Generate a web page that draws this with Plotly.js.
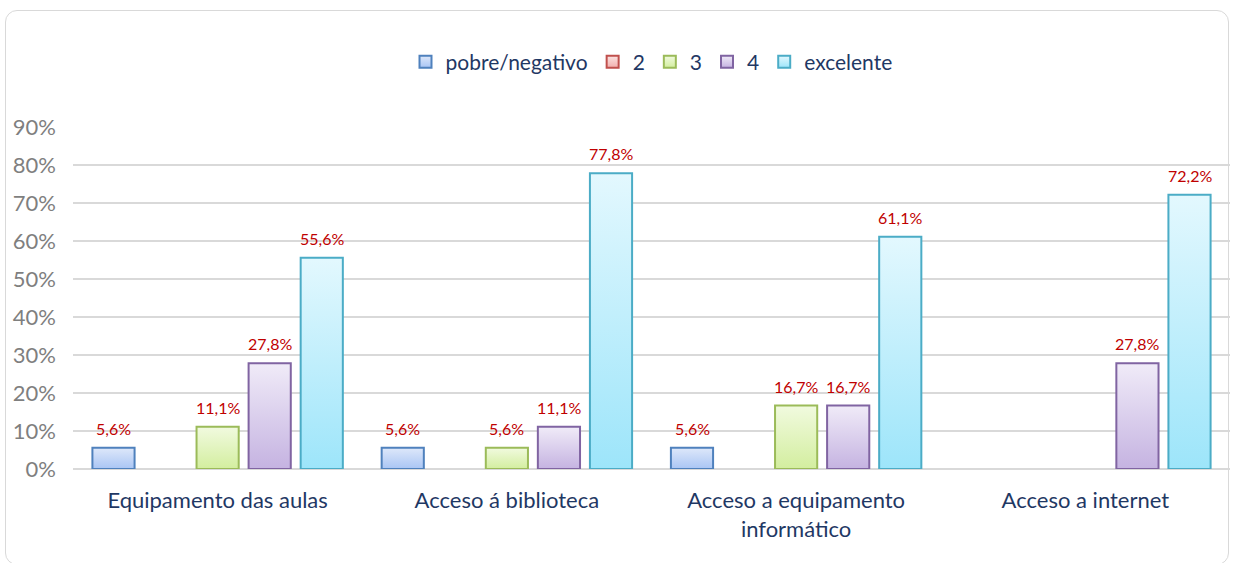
<!DOCTYPE html>
<html>
<head>
<meta charset="utf-8">
<script src="https://cdn.plot.ly/plotly-3.0.1.min.js"></script>
<style>
  html, body { margin: 0; padding: 0; background: #ffffff; }
  #frame { position: absolute; left: 5px; top: 10px; width: 1224px; height: 555px; border: 1.5px solid #D9D9D9; border-radius: 12px; box-sizing: border-box; }
  #chart { position: absolute; left: 0; top: 0; width: 1233px; height: 563px; }
</style>
</head>
<body>
<div id="frame"></div>
<div id="chart"></div>
<script>
const categories = ["Equipamento das aulas", "Acceso á biblioteca", "Acceso a equipamento<br>informático", "Acceso a internet"];
const seriesNames = ["pobre/negativo", "2", "3", "4", "excelente"];
const pobreNegativo = [0.056, 0.056, 0.056, 0];
const valor2 = [0, 0, 0, 0];
const valor3 = [0.111, 0.056, 0.167, 0];
const valor4 = [0.278, 0.111, 0.167, 0.278];
const excelente = [0.556, 0.778, 0.611, 0.722];
const yTickValues = [0, 0.1, 0.2, 0.3, 0.4, 0.5, 0.6, 0.7, 0.8, 0.9];

const seriesValues = [pobreNegativo, valor2, valor3, valor4, excelente];
const fills = ["#C6D9F7", "#F6C9C8", "#E3F5C0", "#DBD0EC", "#C1EEFB"];
const lines = ["#4F81BD", "#C0504D", "#9BBB59", "#8064A2", "#4BACC6"];
const gradTop = ["#DEE8FA", "#FBE3E2", "#F1FADF", "#F0EBF8", "#E3F8FE"];
const gradBot = ["#A9C5F4", "#F2AFAD", "#D3EE9F", "#C5B3E1", "#9DE5FA"];

const FONT = "Lato, 'Open Sans', sans-serif";

const traces = seriesValues.map((vals, i) => ({
  type: "bar",
  name: seriesNames[i],
  x: categories,
  y: vals.map(v => (v > 0 ? v : null)),
  marker: { color: fills[i], line: { color: lines[i], width: 2 } },
  hoverinfo: "skip"
}));

const plotLeft = 73, plotRight = 1230;
const catWidthPx = (plotRight - plotLeft) / categories.length;
const bargap = 0.10, bargroupgap = 0.19;
const slotPx = catWidthPx * (1 - bargap) / seriesValues.length;

const annotations = [];
seriesValues.forEach((vals, i) => {
  vals.forEach((v, j) => {
    if (v > 0) {
      annotations.push({
        x: categories[j], y: v, xref: "x", yref: "y",
        text: (v * 100).toFixed(1).replace(".", ",") + "%",
        showarrow: false, yanchor: "bottom",
        xshift: (i - (seriesValues.length - 1) / 2) * slotPx,
        yshift: 8,
        font: { family: FONT, size: 16, color: "#C00000" }
      });
    }
  });
});

const layout = {
  width: 1233, height: 563,
  margin: { l: plotLeft, r: 1233 - plotRight, t: 127, b: 94 },
  paper_bgcolor: "rgba(0,0,0,0)",
  plot_bgcolor: "rgba(0,0,0,0)",
  barmode: "group",
  bargap: bargap,
  bargroupgap: bargroupgap,
  separators: ",.",
  font: { family: FONT },
  showlegend: true,
  legend: {
    orientation: "h", x: 0.5, xanchor: "center", y: 1.19, yanchor: "middle",
    font: { family: FONT, size: 21, color: "#1F3864" },
    itemclick: false, itemdoubleclick: false, traceorder: "normal"
  },
  xaxis: {
    type: "category",
    showgrid: false, zeroline: false, showline: false, ticks: "",
    tickfont: { family: FONT, size: 22, color: "#1F3864" },
    ticklabelstandoff: 16
  },
  yaxis: {
    range: [0, 0.9],
    tickvals: yTickValues,
    tickformat: ".0%",
    showgrid: true, gridcolor: "#D9D9D9", gridwidth: 1.5,
    zeroline: true, zerolinecolor: "#D9D9D9", zerolinewidth: 1.5,
    showline: false, ticks: "",
    tickfont: { family: FONT, size: 22, color: "#7F7F7F" },
    ticklabelstandoff: 16
  },
  annotations: annotations
};

Plotly.newPlot("chart", traces, layout, { displayModeBar: false, staticPlot: true }).then(gd => {
  // vertical gradients on bar fills (styling only)
  const svg = gd.querySelector("svg.main-svg");
  const ns = "http://www.w3.org/2000/svg";
  let defs = svg.querySelector("defs");
  if (!defs) { defs = document.createElementNS(ns, "defs"); svg.insertBefore(defs, svg.firstChild); }
  seriesValues.forEach((_, i) => {
    const g = document.createElementNS(ns, "linearGradient");
    g.setAttribute("id", "barGrad" + i);
    g.setAttribute("x1", "0"); g.setAttribute("y1", "0"); g.setAttribute("x2", "0"); g.setAttribute("y2", "1");
    const s1 = document.createElementNS(ns, "stop"); s1.setAttribute("offset", "0"); s1.setAttribute("stop-color", gradTop[i]);
    const s2 = document.createElementNS(ns, "stop"); s2.setAttribute("offset", "1"); s2.setAttribute("stop-color", gradBot[i]);
    g.appendChild(s1); g.appendChild(s2); defs.appendChild(g);
  });
  gd.querySelectorAll(".barlayer .trace.bars").forEach((tr, i) => {
    tr.querySelectorAll("path").forEach(p => { p.style.fill = "url(#barGrad" + i + ")"; });
  });
  gd.querySelectorAll(".legend .traces").forEach((tr, i) => {
    tr.querySelectorAll(".legendpoints path").forEach(p => { p.style.fill = "url(#barGrad" + i + ")"; });
  });
});
</script>
</body>
</html>
